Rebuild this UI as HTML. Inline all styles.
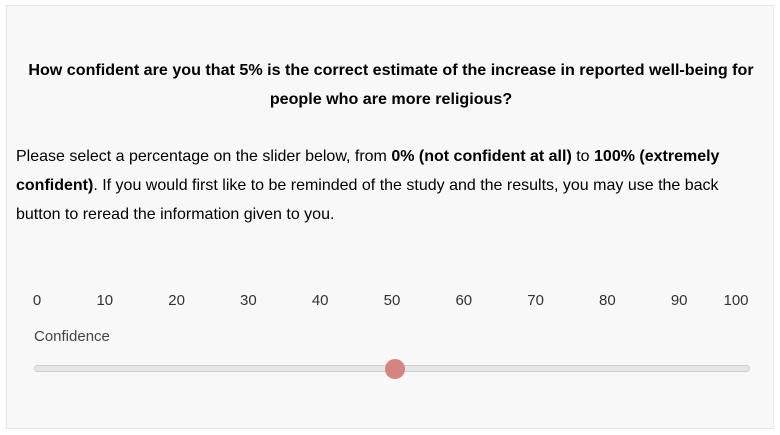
<!DOCTYPE html>
<html><head><meta charset="utf-8"><style>
html,body{margin:0;padding:0;background:#fff;width:780px;height:435px;overflow:hidden;font-family:"Liberation Sans",Arial,sans-serif;}
#panel{position:absolute;left:6px;top:5px;width:768px;height:424px;background:#f8f8f8;border:1px solid #e6e6e6;box-sizing:border-box;}
.t{position:absolute;white-space:nowrap;color:#000;}
#title{left:0;width:768px;text-align:center;font-weight:bold;font-size:16.1px;line-height:29px;top:50px;}
#body{left:9px;top:136px;font-size:16px;line-height:29px;}
.lbl{position:absolute;top:286px;font-size:15px;color:#333;transform:translateX(-50%);}
#conf{left:27px;top:322px;font-size:15px;color:#444;}
#track{position:absolute;left:27px;top:359px;width:716px;height:7px;background:#e6e6e6;border:1px solid #cfcfcf;border-radius:5px;box-sizing:border-box;}
#thumb{position:absolute;width:20px;height:20px;border-radius:50%;background:#d5857d;top:353px;}
</style></head><body>
<div id="panel">
<div id="title" class="t">How confident are you that 5% is the correct estimate of the increase in reported well-being for<br>people who are more religious?</div>
<div id="body" class="t">Please select a percentage on the slider below, from <b>0% (not confident at all)</b> to <b>100% (extremely</b><br><b>confident)</b>. If you would first like to be reminded of the study and the results, you may use the back<br>button to reread the information given to you.</div>
<div id="labels"></div>
<div id="conf" class="t">Confidence</div>
<div id="track"></div>
<div id="thumb"></div>
</div>
<script>
const tickValues=[0,10,20,30,40,50,60,70,80,90,100];
const sliderValue=[50];
const x0=32, x1=744;
function sx(v){return x0+(x1-x0)*v/100;}
function lx(v){return 26+71.8*v/10;}
const L=document.getElementById('labels');
tickValues.forEach(function(v){
  const d=document.createElement('div');
  d.className='lbl';
  
  
  d.textContent=v;
  let c=lx(v);
  if(v===0)c=30;
  if(v===100)c=729;
  d.style.left=c+'px';
  L.appendChild(d);
});
document.getElementById('thumb').style.left=(sx(sliderValue[0])-10)+'px';
</script>
</body></html>
